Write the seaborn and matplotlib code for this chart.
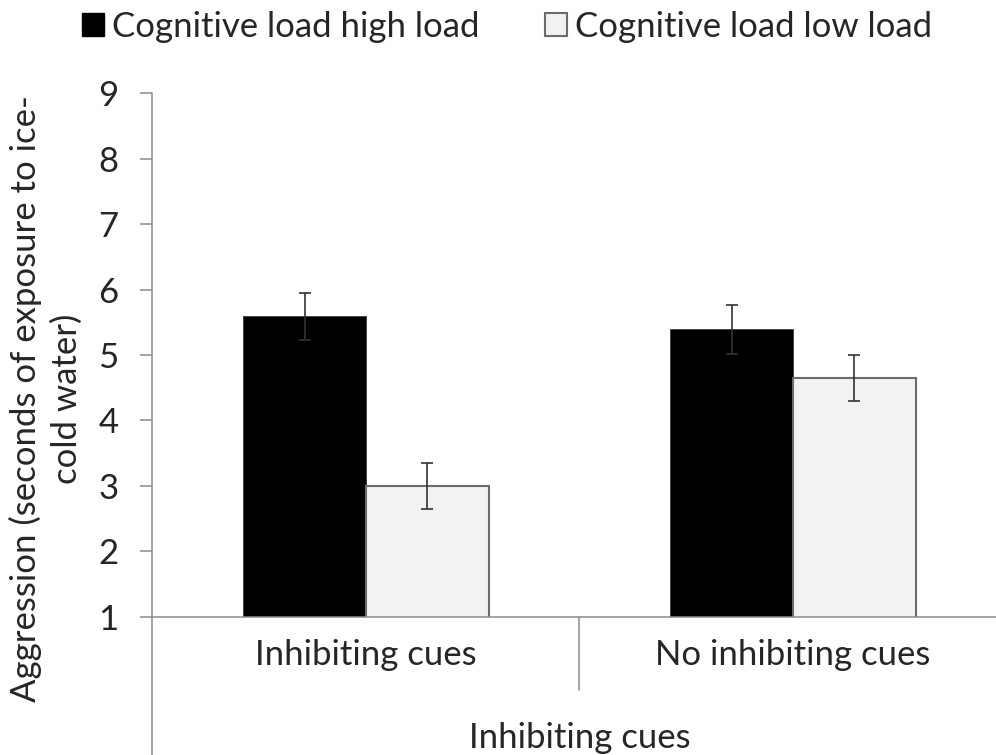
import pandas as pd
import matplotlib
matplotlib.use("Agg")
from matplotlib import pyplot as plt
from matplotlib import transforms
from matplotlib.patches import Patch
import seaborn as sns

cues = ["Inhibiting cues", "No inhibiting cues"]
loads = ["Cognitive load high load", "Cognitive load low load"]
high_means = [5.59, 5.39]
low_means = [3.00, 4.65]
high_err = [0.36, 0.37]
low_err = [0.35, 0.35]

df = pd.DataFrame({
    "cue": cues * 2,
    "load": [loads[0]] * 2 + [loads[1]] * 2,
    "mean": high_means + low_means,
})

sns.set_style("white")
plt.rcParams["font.family"] = ["Lato", "DejaVu Sans"]
fs = 25
axis_grey = "#8C8C8C"

fig = plt.figure(figsize=(9.96, 7.55), dpi=100)
ax = fig.add_axes([0.1531, 0.1828, 0.8574, 0.6940])

sns.barplot(data=df, x="cue", y="mean", hue="load", order=cues, hue_order=loads,
            palette=["black", "#F2F2F2"], width=0.574, gap=0, errorbar=None,
            linewidth=0, legend=False, ax=ax)

# bar edges + error bars taken from the drawn bars
for container, errs, ec, lw in zip(ax.containers, [high_err, low_err],
                                   ["#3a3a3a", "#6b6b6b"], [0.6, 1.5]):
    for bar, e in zip(container, errs):
        bar.set_edgecolor(ec)
        bar.set_linewidth(lw)
        ax.errorbar(bar.get_x() + bar.get_width() / 2, bar.get_height(), yerr=e,
                    fmt="none", ecolor="#333333", elinewidth=1.2, capsize=4.3,
                    capthick=1.2, zorder=5)

ax.set_ylim(1, 9)
ax.set_xlim(-0.5, 1.5)
ax.set_yticks(range(1, 10))
sns.despine(ax=ax)
ax.spines["left"].set_visible(False)
ax.spines["bottom"].set_color(axis_grey)
ax.spines["bottom"].set_linewidth(1.1)

# y axis line running down past the category labels
ax.plot([0, 0], [-0.27, 1], transform=ax.transAxes, clip_on=False,
        color=axis_grey, lw=1.1)
# separator between the two categories
trans = transforms.blended_transform_factory(ax.transData, ax.transAxes)
ax.plot([0.5, 0.5], [0, -0.139], transform=trans, clip_on=False,
        color=axis_grey, lw=1.1)

ax.tick_params(axis="y", length=8.6, width=1.1, color=axis_grey, pad=16,
               labelsize=fs, left=True, direction="out")
ax.tick_params(axis="x", length=0, pad=16, labelsize=fs)

ax.set_xlabel("Inhibiting cues", fontsize=fs, va="center")
ax.xaxis.set_label_coords(0.5, -0.231)
ax.set_ylabel("Aggression (seconds of exposure to ice-\ncold water)", fontsize=fs,
              va="center", linespacing=1.3)
ax.yaxis.set_label_coords(-0.125, 0.416)

handles = [Patch(facecolor="black", edgecolor="black"),
           Patch(facecolor="#F2F2F2", edgecolor="#6b6b6b", linewidth=1.5)]
fig.legend(handles=handles, labels=loads, loc="center",
           bbox_to_anchor=(507 / 996, 1 - 27 / 755), ncol=2, frameon=False,
           handlelength=0.64, handleheight=0.64, handletextpad=0.22,
           columnspacing=1.9, fontsize=fs)

fig.savefig("out.png", dpi=100)
